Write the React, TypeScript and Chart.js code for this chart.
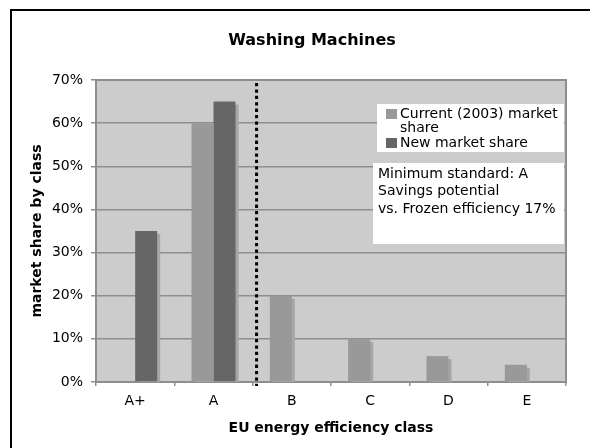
import React, { useEffect, useRef } from 'react';
import { Chart, registerables } from 'chart.js';

Chart.register(...registerables);

// ---- data ----
const categories = ['A+', 'A', 'B', 'C', 'D', 'E'];
const currentShare = [0, 60, 20, 10, 6, 4];
const newShare = [35, 65, 0, 0, 0, 0];
const seriesNames = ['Current (2003) market share', 'New market share'];
const chartTitle = 'Washing Machines';
const xTitle = 'EU energy efficiency class';
const yTitle = 'market share by class';
const yMin = 0;
const yMax = 70;
const yStep = 10;
const noteLines = ['Minimum standard: A', 'Savings potential', 'vs. Frozen efficiency 17%'];
const dividerAt = 1.55; // between A and B (category index units)

const FONT = "'DejaVu Sans', Verdana, sans-serif";
const PLOT_BG = '#cccccc';
const GRID = '#8e8e8e';
const COLORS = ['#999999', '#666666'];
const SHADOW = '#a6a6a6';

function wrapText(ctx: CanvasRenderingContext2D, text: string, maxW: number): string[] {
  const words = text.split(' ');
  const lines: string[] = [];
  let cur = '';
  for (const w of words) {
    const test = cur ? cur + ' ' + w : w;
    if (ctx.measureText(test).width > maxW && cur) {
      lines.push(cur);
      cur = w;
    } else cur = test;
  }
  if (cur) lines.push(cur);
  return lines;
}

const decorPlugin = {
  id: 'decor',
  beforeDraw(chart: any) {
    const { ctx, chartArea: a } = chart;
    ctx.save();
    ctx.fillStyle = PLOT_BG;
    ctx.fillRect(a.left, a.top, a.right - a.left, a.bottom - a.top);
    ctx.restore();
  },
  beforeDatasetsDraw(chart: any) {
    const { ctx, chartArea: a } = chart;
    ctx.save();
    ctx.strokeStyle = GRID;
    ctx.lineWidth = 2;
    ctx.strokeRect(a.left, a.top, a.right - a.left, a.bottom - a.top);
    ctx.beginPath();
    ctx.rect(a.left, a.top, a.right - a.left, a.bottom - a.top);
    ctx.clip();
    ctx.fillStyle = SHADOW;
    chart.data.datasets.forEach((_ds: any, i: number) => {
      const meta = chart.getDatasetMeta(i);
      meta.data.forEach((bar: any) => {
        const { x, y, base, width } = bar.getProps(['x', 'y', 'base', 'width'], true);
        const h = base - y;
        if (h < 1) return;
        ctx.fillRect(x - width / 2 + 3, y + 3, width, h);
      });
    });
    ctx.restore();
  },
  afterDatasetsDraw(chart: any) {
    const { ctx, chartArea: a, scales } = chart;
    // dotted divider
    const xd = scales.x.getPixelForValue(dividerAt);
    ctx.save();
    ctx.strokeStyle = '#000';
    ctx.lineWidth = 3;
    ctx.setLineDash([3.3, 3.1]);
    ctx.beginPath();
    ctx.moveTo(xd, a.top + 3);
    ctx.lineTo(xd, a.bottom + 4);
    ctx.stroke();
    ctx.restore();

    // legend
    ctx.save();
    const lx = a.right - 189;
    const ly = a.top + 24;
    ctx.fillStyle = '#fff';
    ctx.fillRect(lx, ly, 187, 48);
    ctx.font = `14px ${FONT}`;
    ctx.textBaseline = 'middle';
    ctx.textAlign = 'left';
    let ty = ly + 10;
    seriesNames.forEach((name, i) => {
      const lines = wrapText(ctx, name, 164);
      ctx.fillStyle = COLORS[i];
      ctx.fillRect(lx + 9, ty - 5, 11, 10);
      ctx.fillStyle = '#000';
      lines.forEach((ln) => {
        ctx.fillText(ln, lx + 23, ty);
        ty += 14.5;
      });
    });
    ctx.restore();

    // note box
    ctx.save();
    const nx = a.right - 193;
    const ny = a.top + 83;
    ctx.fillStyle = '#fff';
    ctx.fillRect(nx, ny, 191, 81);
    ctx.font = `14px ${FONT}`;
    ctx.fillStyle = '#000';
    ctx.textBaseline = 'middle';
    noteLines.forEach((ln, i) => {
      ctx.fillText(ln, nx + 5, ny + 11 + i * 17.5);
    });
    ctx.restore();
  },
};

export default function App() {
  const ref = useRef<HTMLCanvasElement | null>(null);
  useEffect(() => {
    if (!ref.current) return;
    const chart = new Chart(ref.current, {
      type: 'bar',
      data: {
        labels: categories,
        datasets: [
          { label: seriesNames[0], data: currentShare, backgroundColor: COLORS[0], categoryPercentage: 0.562, barPercentage: 1 },
          { label: seriesNames[1], data: newShare, backgroundColor: COLORS[1], categoryPercentage: 0.562, barPercentage: 1 },
        ],
      },
      options: {
        responsive: false,
        animation: false,
        devicePixelRatio: 1,
        layout: { padding: 0 },
        plugins: {
          legend: { display: false },
          tooltip: { enabled: false },
          title: {
            display: true,
            text: chartTitle,
            color: '#000',
            font: { family: FONT, size: 16, weight: 'bold' },
            padding: { top: 20.4, bottom: 29.4 },
          },
        },
        scales: {
          x: {
            grid: { display: true, drawOnChartArea: false, drawTicks: true, tickLength: 4, color: GRID, lineWidth: 1.5 },
            border: { display: false },
            ticks: { color: '#000', font: { family: FONT, size: 14 }, padding: 7 },
            title: {
              display: true,
              text: xTitle,
              color: '#000',
              font: { family: FONT, size: 14, weight: 'bold' },
              padding: { top: 0, bottom: 34.6 },
            },
            afterFit: (s: any) => { s.height = 89; },
          },
          y: {
            min: yMin,
            max: yMax,
            grid: { color: GRID, lineWidth: 1.5, tickLength: 5 },
            border: { display: false },
            ticks: {
              stepSize: yStep,
              color: '#000',
              font: { family: FONT, size: 14 },
              padding: 8,
              callback: (v: any) => `${v}%`,
            },
            title: {
              display: true,
              text: yTitle,
              color: '#000',
              font: { family: FONT, size: 14, weight: 'bold' },
              padding: { top: 17.1, bottom: 0 },
            },
            afterFit: (s: any) => { s.width = 84; },
          },
          r: {
            type: 'linear',
            position: 'right',
            display: true,
            grid: { display: false },
            border: { display: false },
            ticks: { display: false },
            afterFit: (s: any) => { s.width = 46; },
          },
        },
      },
      plugins: [decorPlugin],
    } as any);
    return () => chart.destroy();
  }, []);

  return (
    <div style={{ position: 'fixed', left: 0, top: 0, width: 590, height: 448, overflow: 'hidden', background: '#fff' }}>
      <div
        style={{
          position: 'absolute',
          left: 10,
          top: 9,
          width: 640,
          height: 500,
          border: '2px solid #000',
          boxSizing: 'border-box',
        }}
      >
        <canvas ref={ref} width={600} height={460} style={{ display: 'block', width: 600, height: 460 }} />
      </div>
    </div>
  );
}
